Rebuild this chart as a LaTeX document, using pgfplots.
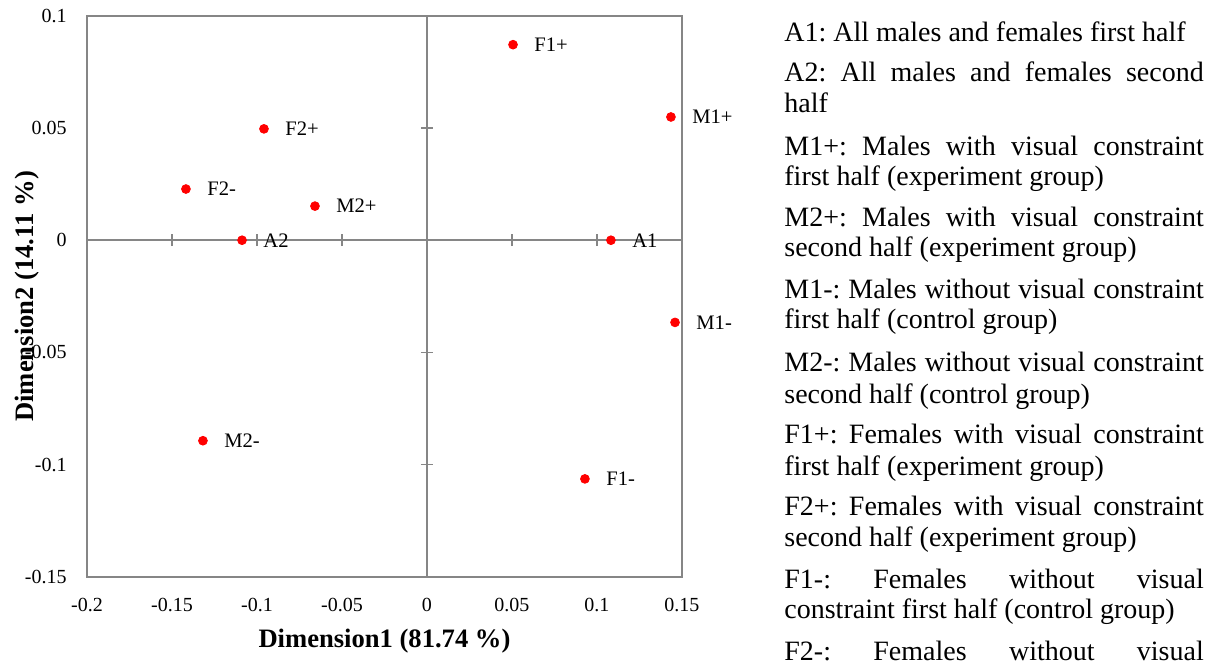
\documentclass[border=0pt]{standalone}
\usepackage{fontspec}
\setmainfont{Liberation Serif}
\usepackage{pgfplots}
\pgfplotsset{compat=1.18}
\definecolor{axgray}{RGB}{134,134,134}
\frenchspacing
\begin{document}
\frenchspacing
\begin{tikzpicture}
\pgfplotsset{common/.style={scale only axis, width=297.5pt, height=280.65pt,
  xmin=-0.2, xmax=0.15, ymin=-0.15, ymax=0.1, at={(0pt,0pt)}, anchor=south west}}
% zero lines with crossing ticks
\begin{axis}[common, axis lines=middle,
  axis line style={draw=axgray, line width=0.75pt, -},
  xtick={-0.15,-0.1,-0.05,0,0.05,0.1}, ytick={-0.1,-0.05,0,0.05},
  xticklabels={}, yticklabels={},
  tick align=center, major tick length=6pt,
  tick style={draw=axgray, line width=0.75pt}]
\addplot[draw=none] coordinates {(0,0)};
\end{axis}
% frame, tick labels and data
\begin{axis}[common, clip=false,
  axis line style={draw=axgray, line width=1pt},
  xtick={-0.2,-0.15,-0.1,-0.05,0,0.05,0.1,0.15},
  xticklabels={-0.2,-0.15,-0.1,-0.05,0,0.05,0.1,0.15},
  ytick={-0.15,-0.1,-0.05,0,0.05,0.1},
  yticklabels={-0.15,-0.1,-0.05,0,0.05,0.1},
  major tick length=0pt, tick style={draw=none},
  ticklabel style={font=\fontsize{10}{12}\selectfont},
  xticklabel style={yshift=-6.9pt},
  yticklabel style={xshift=-6.7pt},
  xlabel={Dimension1 (81.74 \%)},
  ylabel={Dimension2 (14.11 \%)},
  label style={font=\bfseries\fontsize{13.3}{15}\selectfont},
  xlabel style={at={(axis description cs:0.5,-0.1248)}, anchor=base},
  ylabel style={at={(axis description cs:-0.0903,0.5)}, anchor=base},
]
\addplot[only marks, mark=*, mark size=2.2pt, color=red,
  point meta=explicit symbolic, nodes near coords,
  every node near coord/.append style={anchor=west, xshift=10.5pt, inner sep=0pt,
     text=black, font=\fontsize{10.3}{12}\selectfont}]
  table[meta=label] {
x y label
0.1082 0 A1
-0.1088 0 A2
0.1435 0.0549 M1+
-0.0659 0.0152 M2+
0.1459 -0.0366 M1-
-0.1318 -0.0893 M2-
0.0506 0.0871 F1+
-0.0959 0.0496 F2+
0.0929 -0.1063 F1-
-0.1418 0.0228 F2-
};
\end{axis}
% explanatory text (pixel coordinates of the reference)
\begin{scope}[shift={(-43.5pt,288.5pt)}, x=0.5pt, y=-0.5pt]
\begin{scope}
\clip (0,0) rectangle (1212,666);
\tikzset{ln/.style={anchor=base west, inner sep=0pt, font=\fontsize{14}{16}\selectfont\frenchspacing}}
\def\J#1{\makebox[209.7pt][s]{#1}}
\node[ln] at (784,41.7) {A1: All males and females first half};
\node[ln] at (784,81.7) {\J{A2: All males and females second}};
\node[ln] at (784,112.7) {half};
\node[ln] at (784,155) {\J{M1+: Males with visual constraint}};
\node[ln] at (784,185) {first half (experiment group)};
\node[ln] at (784,226.7) {\J{M2+: Males with visual constraint}};
\node[ln] at (784,256.7) {second half (experiment group)};
\node[ln] at (784,298.3) {\J{M1-: Males without visual constraint}};
\node[ln] at (784,328.3) {first half (control group)};
\node[ln] at (784,371.7) {\J{M2-: Males without visual constraint}};
\node[ln] at (784,403.3) {second half (control group)};
\node[ln] at (784,443.3) {\J{F1+: Females with visual constraint}};
\node[ln] at (784,475) {first half (experiment group)};
\node[ln] at (784,515) {\J{F2+: Females with visual constraint}};
\node[ln] at (784,546.7) {second half (experiment group)};
\node[ln] at (784,588.3) {\J{F1-: Females without visual}};
\node[ln] at (784,618.3) {constraint first half (control group)};
\node[ln] at (784,660) {\J{F2-: Females without visual}};
\end{scope}
\pgfresetboundingbox
\useasboundingbox (0,0) rectangle (1212,666);
\end{scope}
\end{tikzpicture}
\end{document}
